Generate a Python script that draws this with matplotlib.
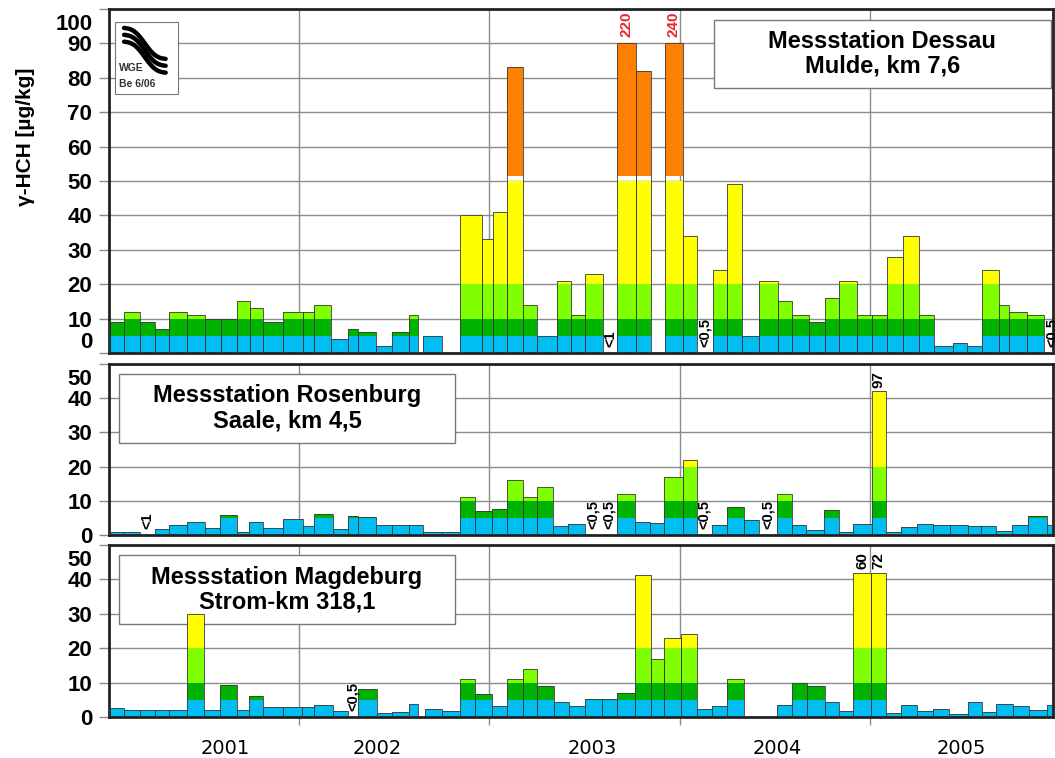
import numpy as np
import matplotlib.pyplot as plt
from matplotlib.patches import Rectangle

plt.rcParams['font.family'] = ['Liberation Sans', 'DejaVu Sans']

nan = np.nan

# sampling periods as months since Jan 2001, values in ug/kg (nan = no bar)
dessau_edges = [0, 0.97, 1.96, 2.92, 3.77, 4.94, 6.06, 7.05, 8.09, 8.9, 9.74, 10.96, 12.22, 12.95, 14.01,
                15.1, 15.73, 16.85, 17.84, 18.95, 19.48, 19.83, 20.99, 22.15, 23.51, 24.21, 25.09, 26.1,
                27.02, 28.25, 29.13, 30.03, 31.19, 32.07, 33.23, 34.18, 35.08, 36.2, 37.08, 38.09, 38.97,
                39.96, 41.03, 42.19, 43.11, 44.18, 45.17, 46.06, 47.17, 48.12, 49.1, 50.11, 51.12, 52.05,
                53.27, 54.15, 55.06, 56.17, 56.8, 57.9, 58.99, 60]
dessau_vals = [9, 12, 9, 7, 12, 11, 10, 10, 15, 13, 9, 12, 12, 14, 4, 7, 6, 2, 6, 11,
               nan, 5, nan, 40, 33, 41, 83, 14, 5, 21, 11, 23, nan, 220, 82, nan, 240, 34, nan, 24,
               49, 5, 21, 15, 11, 9, 16, 21, 11, 11, 28, 34, 11, 2, 3, 2, 24, 14, 12, 11, nan]
dessau_notes = {32: "<1", 38: "<0,5", 60: "<0,5"}

rosenburg_edges = [0, 0.97, 1.96, 2.92, 3.77, 4.9, 6.05, 7.0, 8.09, 8.85, 9.74, 10.96, 12.22, 12.95,
                   14.11, 15.1, 15.73, 16.85, 17.84, 18.95, 19.79, 20.99, 22.15, 23.09, 24.15, 25.09,
                   26.1, 26.98, 28.03, 28.98, 30.03, 31.09, 32.03, 33.19, 34.13, 35.02, 36.2, 37.08,
                   38.03, 38.97, 40.06, 41.03, 42.16, 43.07, 43.97, 45.11, 46.06, 46.96, 48.12, 49.0,
                   49.95, 50.96, 52.01, 53.06, 54.21, 55.02, 55.96, 56.95, 58.0, 59.16, 60]
rosenburg_vals = [0.8, 0.8, nan, 1.7, 2.9, 3.8, 2, 5.9, 1, 3.9, 2, 4.8, 2.7, 6.1, 1.8, 5.6, 5.3, 3, 3, 3,
                  1, 1, 11, 7, 7.6, 16, 11, 14, 2.6, 3.3, nan, nan, 12, 3.8, 3.4, 17, 22, nan, 2.9, 8.2,
                  4.3, nan, 12, 2.9, 1.4, 7.3, 0.9, 3.3, 97, 1, 2.4, 3.2, 3, 3, 2.5, 2.6, 1.3, 3, 5.5, 3]
rosenburg_notes = {2: "<1", 30: "<0,5", 31: "<0,5", 37: "<0,5", 41: "<0,5"}

magdeburg_edges = [0, 0.97, 1.96, 2.92, 3.77, 4.94, 5.99, 7.0, 8.09, 8.85, 9.74, 10.96, 12.16, 12.95,
                   14.11, 15.1, 15.73, 16.93, 17.84, 18.95, 19.51, 19.94, 20.99, 22.15, 23.09, 24.15,
                   25.09, 26.1, 26.98, 28.07, 29.04, 30.03, 31.09, 32.03, 33.19, 34.18, 35.02, 36.07,
                   37.08, 38.03, 38.97, 40.06, 42.16, 43.07, 44.02, 45.17, 46.06, 46.96, 48.08, 49.0,
                   49.95, 50.96, 52.01, 53.02, 54.21, 55.06, 55.96, 57.01, 58.04, 59.16, 60]
magdeburg_vals = [2.5, 1.9, 1.9, 1.9, 1.9, 30, 1.9, 9.2, 1.9, 6, 2.9, 2.9, 2.9, 3.5, 1.8, nan, 8, 1.3, 1.5, 3.8,
                  nan, 2.2, 1.6, 11, 6.8, 3.1, 11, 14, 9, 4.4, 3.1, 5.3, 5.3, 7, 41.4, 17, 23, 24, 2.4, 3.1,
                  11, nan, 3.5, 10, 9, 4.5, 1.8, 60, 72, 1.3, 3.5, 1.8, 2.3, 0.9, 4.4, 1.5, 3.8, 3.1, 1.9, 3.4]
magdeburg_notes = {15: "<0,5"}

years = ["2001", "2002", "2003", "2004", "2005"]
year_label_pos = [7.32, 16.94, 30.5, 42.18, 53.75]
year_starts = [12, 24, 36, 48]

class_bounds = [0, 5, 10, 20, 50, 1000]
class_colors = ["#00bdf2", "#00b300", "#80ff00", "#ffff00", "#ff7f00"]

grid_col = "#8c8c8c"


def draw_panel(ax, edges, vals, notes, top, clip, over_color):
    edges = np.array(edges, dtype=float)
    vals = np.array(vals, dtype=float)
    left = edges[:-1]
    width = np.diff(edges)
    ok = ~np.isnan(vals)
    h = np.minimum(np.where(ok, vals, 0), clip)
    for k, c in enumerate(class_colors):
        lo, hi = class_bounds[k], class_bounds[k + 1]
        if k == 4:
            lo = lo + 1.5  # white gap above the 50 line
        seg = np.clip(h, lo, hi) - lo
        m = seg > 0
        ax.bar(left[m], seg[m], width[m], bottom=lo, align="edge", color=c, linewidth=0, zorder=2)
    ax.bar(left[ok], h[ok], width[ok], align="edge", fill=False, edgecolor="#3a3a3a",
           linewidth=0.6, zorder=3)
    for i in np.where(ok & (np.nan_to_num(vals) > clip))[0]:
        ax.text(left[i] + width[i] / 2, clip + 0.018 * top, f"{vals[i]:.0f}", rotation=90,
                ha="center", va="bottom", color=over_color, fontsize=11, fontweight="bold")
    for i, t in notes.items():
        ax.annotate(t, (left[i] + width[i] / 2, 0), xytext=(0, 4), textcoords="offset points",
                    rotation=90, ha="center", va="bottom", fontsize=10.5, fontweight="bold",
                    annotation_clip=False)

    ax.set_xlim(0, 59.56)
    ax.set_ylim(0, top)
    ticks = np.arange(0, top + 1, 10)
    ax.set_yticks(ticks)
    ax.set_yticklabels([str(v) for v in ticks[:-1]] + [""], fontweight="bold")
    # top label sits a little below the frame
    ax.annotate(str(top), xy=(0, top), xycoords=("axes fraction", "data"), xytext=(-12, -3.5),
                textcoords="offset points", ha="right", va="top", fontsize=16, fontweight="bold")
    ax.set_xticks(year_starts)
    ax.set_axisbelow(True)
    ax.grid(True, color=grid_col, linewidth=1)
    ax.tick_params(axis="y", direction="out", length=7, width=1, color=grid_col, pad=5,
                   labelsize=16)
    ax.tick_params(axis="x", length=0, labelbottom=False)
    for s in ax.spines.values():
        s.set_linewidth(2)
        s.set_color("#222222")


def station_box(ax, x0, y0, w, h, text):
    ax.add_patch(Rectangle((x0, y0), w, h, transform=ax.transAxes, facecolor="white",
                           edgecolor="#777777", linewidth=1, zorder=1.5))
    ax.text(x0 + w / 2, y0 + h / 2, text, transform=ax.transAxes, ha="center", va="center",
            fontsize=17, fontweight="bold", linespacing=1.1, zorder=1.6)


fig = plt.figure(figsize=(10.55, 7.58), dpi=100)
ax1 = fig.add_axes([0.1033, 0.5343, 0.8948, 0.4538])
ax2 = fig.add_axes([0.1033, 0.2942, 0.8948, 0.2256])
ax3 = fig.add_axes([0.1033, 0.0541, 0.8948, 0.2269])

draw_panel(ax1, dessau_edges, dessau_vals, dessau_notes, 100, 90, "#e8262d")
draw_panel(ax2, rosenburg_edges, rosenburg_vals, rosenburg_notes, 50, 42, "black")
draw_panel(ax3, magdeburg_edges, magdeburg_vals, magdeburg_notes, 50, 42, "black")
ax1.get_yticklabels()[0].set_va("bottom")

station_box(ax1, 0.641, 0.770, 0.3565, 0.198, "Messstation Dessau\nMulde, km 7,6")
station_box(ax2, 0.0106, 0.54, 0.356, 0.402, "Messstation Rosenburg\nSaale, km 4,5")
station_box(ax3, 0.0106, 0.541, 0.356, 0.401, "Messstation Magdeburg\nStrom-km 318,1")

# x axis with years
ax3.tick_params(axis="x", which="major", length=6, width=1, color=grid_col)
ax3.set_xticks(year_label_pos, minor=True)
ax3.set_xticklabels(years, minor=True, fontfamily="DejaVu Sans", fontsize=14)
ax3.tick_params(axis="x", which="minor", length=0, pad=16, labelbottom=True)

# WGE logo
ax1.add_patch(Rectangle((0.0064, 0.753), 0.0666, 0.21, transform=ax1.transAxes, facecolor="white",
                        edgecolor="#777777", linewidth=0.8, zorder=4))
t = np.linspace(0, 1, 40)
for dy in (0, -0.02, -0.04):
    ax1.plot(0.016 + 0.044 * t, 0.945 - 0.09 * t + 0.012 * np.sin(2 * np.pi * t) + dy,
             transform=ax1.transAxes, color="black", linewidth=3.2, solid_capstyle="round", zorder=5)
ax1.text(0.0105, 0.828, "WGE", transform=ax1.transAxes, fontsize=7.5, fontweight="bold",
         color="#333333", va="center", zorder=5)
ax1.text(0.0105, 0.783, "Be 6/06", transform=ax1.transAxes, fontsize=7.5, fontweight="bold",
         color="#333333", va="center", zorder=5)

fig.text(0.024, 0.82, "γ-HCH [µg/kg]", rotation=90, ha="center", va="center", fontsize=15,
         fontweight="bold")

fig.savefig("out.png", dpi=100)
